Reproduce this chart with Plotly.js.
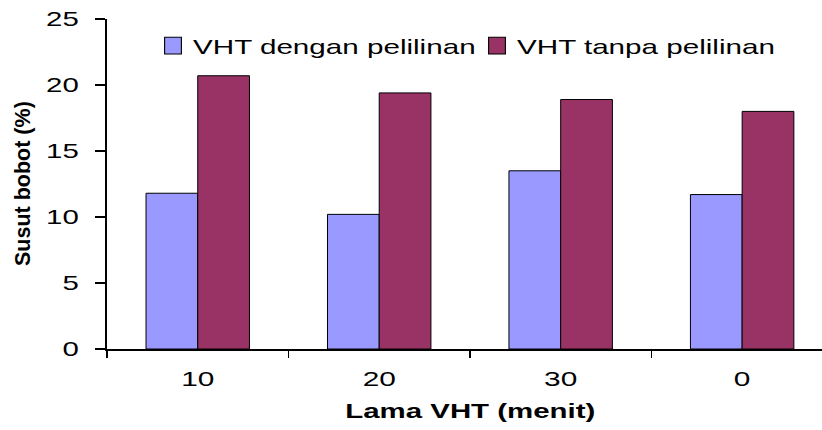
<!DOCTYPE html>
<html>
<head>
<meta charset="utf-8">
<script src="https://cdn.plot.ly/plotly-3.0.1.min.js"></script>
<style>
html,body{margin:0;padding:0;background:#fff;}
#chart{width:822px;height:430px;}
</style>
</head>
<body>
<div id="chart"></div>
<script>
const categories = ["10", "20", "30", "0"];
const seriesNames = ["VHT dengan pelilinan", "VHT tanpa pelilinan"];
const withWax = [11.8, 10.2, 13.5, 11.7];
const withoutWax = [20.7, 19.4, 18.9, 18.0];
const yTicks = [0, 5, 10, 15, 20, 25];
const xTitle = "Lama VHT (menit)";
const yTitle = "Susut bobot (%)";

const F = "Liberation Sans, Arial, sans-serif";
const L = 107, R = 822, T = 19, B = 349;
const pw = R - L, ph = B - T;

const traces = [
  {type: "bar", x: categories, y: withWax, name: seriesNames[0],
   marker: {color: "#9999FF", line: {color: "#000", width: 1}}},
  {type: "bar", x: categories, y: withoutWax, name: seriesNames[1],
   marker: {color: "#993366", line: {color: "#000", width: 1}}}
];

const layout = {
  width: 822, height: 430,
  margin: {l: L, r: 822 - R, t: T, b: 430 - B, pad: 0},
  paper_bgcolor: "#fff", plot_bgcolor: "#fff",
  barmode: "group", bargap: 0.43, bargroupgap: 0,
  showlegend: true,
  legend: {
    orientation: "h", xanchor: "left", yanchor: "middle", y: (B - 46) / ph, x: (153 - L) / pw,
    font: {family: F, size: 21, color: "#000"}, bgcolor: "rgba(0,0,0,0)",
    borderwidth: 0, entrywidth: 279, entrywidthmode: "pixels", traceorder: "normal"
  },
  xaxis: {
    type: "category", range: [-0.5, 3.44], tickson: "boundaries",
    ticks: "outside", ticklen: 7, tickwidth: 1.5, tickcolor: "#000",
    showline: true, linecolor: "#000", linewidth: 2, showgrid: false, zeroline: false,
    tickfont: {family: F, size: 21, color: "#000"}, ticklabelstandoff: 10, fixedrange: true
  },
  yaxis: {
    range: [0, 25], tickvals: yTicks, ticktext: yTicks.map(String),
    ticks: "outside", ticklen: 10, tickwidth: 1.5, tickcolor: "#000",
    showline: true, linecolor: "#000", linewidth: 2, showgrid: false, zeroline: false,
    tickfont: {family: F, size: 21, color: "#000"}, ticklabelstandoff: 12, fixedrange: true
  },
  annotations: [
    {text: xTitle, xref: "paper", yref: "paper", x: (470 - L) / pw, y: (B - 410) / ph,
     xanchor: "center", yanchor: "middle", showarrow: false,
     font: {family: F, size: 21, color: "#000", weight: "bold"}},
    {text: yTitle, xref: "paper", yref: "paper", x: (23 - L) / pw, y: 0.5,
     xanchor: "center", yanchor: "middle", showarrow: false, textangle: -90,
     font: {family: F, size: 21.5, color: "#000", weight: "bold"}}
  ]
};

const gd = document.getElementById("chart");

function widen(){
  const q = s => Array.from(gd.querySelectorAll(s));
  function stretch(nodes, f){
    nodes.forEach(function(t){
      if (t.dataset.stretched) return;
      const w = t.getComputedTextLength();
      if (!w) return;
      t.setAttribute("textLength", (w * f).toFixed(2));
      t.setAttribute("lengthAdjust", "spacingAndGlyphs");
      t.dataset.stretched = "1";
    });
  }
  stretch(q(".xtick text"), 1.42);
  stretch(q(".ytick text"), 1.40);
  stretch(q(".legendtext"), 1.41);
  stretch(q("text.annotation-text").filter(t => t.textContent === xTitle), 1.40);
  q(".legendpoints path").forEach(function(p){
    if (p.dataset.scaled) return;
    const tr = p.getAttribute("transform") || "";
    p.setAttribute("transform", tr + " scale(1.4)");
    p.style.strokeWidth = "0.8px";
    p.dataset.scaled = "1";
  });
  q("g.legend [clip-path]").forEach(e => e.removeAttribute("clip-path"));
  q("g.legend").forEach(e => e.removeAttribute("clip-path"));
}

Plotly.newPlot(gd, traces, layout, {staticPlot: true, displayModeBar: false}).then(function(){
  widen();
  setTimeout(widen, 0);
  setTimeout(widen, 100);
});
</script>
</body>
</html>
